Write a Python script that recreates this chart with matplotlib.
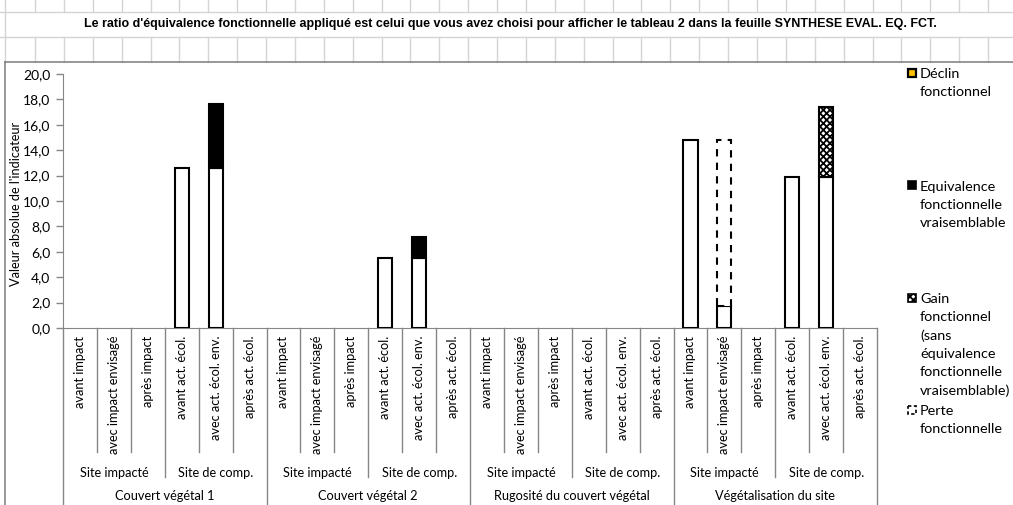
import matplotlib.pyplot as plt
import numpy as np
from matplotlib.patches import Rectangle
from matplotlib.transforms import blended_transform_factory

# categories along the x axis (3 levels)
groupes = ['Couvert végétal 1', 'Couvert végétal 2',
           'Rugosité du couvert végétal', 'Végétalisation du site']
sites = ['Site impacté', 'Site de comp.']
etapes_impact = ['avant impact', 'avec impact envisagé', 'après impact']
etapes_comp = ['avant act. écol.', 'avec act. écol. env.', 'après act. écol.']

# stacked series, one value per category (24 categories)
base = [0, 0, 0, 12.6, 12.6, 0,
        0, 0, 0, 5.5, 5.5, 0,
        0, 0, 0, 0, 0, 0,
        14.8, 1.7, 0, 11.9, 11.9, 0]
declin = [0] * 24
equivalence = [0, 0, 0, 0, 5.0, 0,
               0, 0, 0, 0, 1.7, 0,
               0, 0, 0, 0, 0, 0,
               0, 0, 0, 0, 0, 0]
gain = [0, 0, 0, 0, 0, 0,
        0, 0, 0, 0, 0, 0,
        0, 0, 0, 0, 0, 0,
        0, 0, 0, 0, 5.5, 0]
perte = [0, 0, 0, 0, 0, 0,
         0, 0, 0, 0, 0, 0,
         0, 0, 0, 0, 0, 0,
         0, 13.1, 0, 0, 0, 0]

legende = ['Déclin\nfonctionnel',
           'Equivalence\nfonctionnelle\nvraisemblable',
           'Gain\nfonctionnel\n(sans\néquivalence\nfonctionnelle\nvraisemblable)',
           'Perte\nfonctionnelle']

titre = ("Le ratio d'équivalence fonctionnelle appliqué est celui que vous avez "
         "choisi pour afficher le tableau 2 dans la feuille SYNTHESE EVAL. EQ. FCT.")

W, H = 1013, 505
plt.rcParams['font.family'] = ['Lato', 'DejaVu Sans']
plt.rcParams['hatch.linewidth'] = 1.3
fs = 9.2
fs_leg = 10.4
gris = '#868686'
grille = '#d4d4d4'

fig = plt.figure(figsize=(W / 100, H / 100), dpi=100)

# background layer in pixel coordinates: worksheet cells, title, chart border, legend
bg = fig.add_axes([0, 0, 1, 1], zorder=-1)
bg.set_xlim(0, W)
bg.set_ylim(H, 0)
bg.axis('off')

cols = [5] + list(35 + 28.88 * np.arange(35))
for x in cols:
    bg.plot([x, x], [0, 12], color=grille, lw=1)
    bg.plot([x, x], [37, 62], color=grille, lw=1)
bg.plot([5, 5], [12, 37], color=grille, lw=1)
for y in [12, 37]:
    bg.plot([0, W], [y, y], color=grille, lw=1)
bg.text(510, 24.5, titre, ha='center', va='center', fontsize=9.0,
        fontweight='bold', family='Liberation Sans')

bg.plot([5, W], [62, 62], color=gris, lw=1.2)
bg.plot([5, 5], [62, H], color=gris, lw=1.2)

bg.text(16, 204, "Valeur absolue de l'indicateur", rotation=90, ha='center',
        va='center', fontsize=fs)

# legend, one slot per series
styles = [dict(facecolor='#FFC000', edgecolor='black', lw=1.6),
          dict(facecolor='black', edgecolor='black', lw=1.2),
          dict(facecolor='white', edgecolor='black', lw=1.2, hatch='xxxxx'),
          dict(facecolor='white', edgecolor='black', lw=1.2, linestyle=(0, (2, 1.5)))]
for k, (lab, st) in enumerate(zip(legende, styles)):
    y0 = 73 + 112.3 * k
    bg.add_patch(Rectangle((908, y0 - 4), 8, 8, **st))
    bg.text(920, y0 - 4.5, lab, ha='left', va='top', fontsize=fs_leg, linespacing=1.6)

# plot area
ax = fig.add_axes([63 / W, 1 - 328 / H, (877 - 63) / W, (328 - 74) / H])
ax.set_facecolor('none')
x = np.arange(24)
w = 0.42


def pile(valeurs, bas, **kw):
    # draw only the non-zero segments of a stacked series
    v = np.array(valeurs, dtype=float)
    m = v > 0
    ax.bar(x[m], v[m], w, bottom=bas[m], zorder=3, lw=1.5, **kw)
    return bas + v


b = np.zeros(24)
b = pile(base, b, color='white', edgecolor='black')
b = pile(declin, b, color='#FFC000', edgecolor='black')
b = pile(equivalence, b, color='black', edgecolor='black')
b = pile(gain, b, color='white', edgecolor='black', hatch='xxxxx')
b = pile(perte, b, color='white', edgecolor='black', linestyle=(0, (3.5, 3)))

ax.set_xlim(-0.5, 23.5)
ax.set_ylim(0, 20)
ax.set_yticks(np.arange(0, 21, 2))
ax.yaxis.set_major_formatter(plt.FuncFormatter(lambda v, p: f'{v:.1f}'.replace('.', ',')))
ax.tick_params(axis='y', colors=gris, labelcolor='black', labelsize=10,
               length=5, width=1, pad=4)
ax.set_xticks([])
for s in ['top', 'right']:
    ax.spines[s].set_visible(False)
for s in ['left', 'bottom']:
    ax.spines[s].set_color(gris)

# multi-level category axis
tr = blended_transform_factory(ax.transData, fig.transFigure)


def fy(py):
    return 1 - py / H


etapes = (etapes_impact + etapes_comp) * len(groupes)
for i, lab in enumerate(etapes):
    ax.text(i, fy(336), lab, transform=tr, rotation=90, ha='center', va='top',
            fontsize=fs, clip_on=False)
for i in range(25):
    bas = 505 if i % 6 == 0 else (477 if i % 3 == 0 else 452)
    ax.plot([i - 0.5, i - 0.5], [fy(328), fy(bas)], transform=tr, color=gris,
            lw=1, clip_on=False)
for j in range(len(groupes) * len(sites)):
    ax.text(3 * j + 1, fy(473), sites[j % 2], transform=tr, ha='center',
            va='center', fontsize=fs, clip_on=False)
for g, nom in enumerate(groupes):
    ax.text(6 * g + 2.5, fy(496), nom, transform=tr, ha='center', va='center',
            fontsize=fs, clip_on=False)

fig.savefig('out.png', dpi=100)
